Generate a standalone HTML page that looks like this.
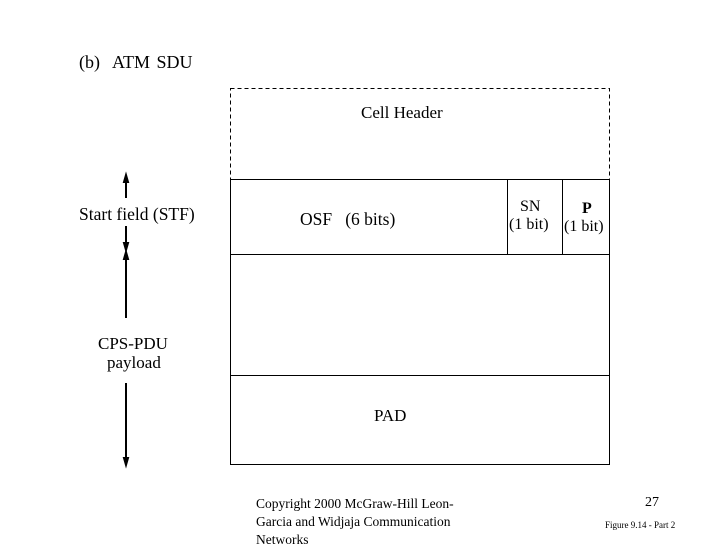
<!DOCTYPE html>
<html><head><style>
body{margin:0;width:720px;height:540px;background:#fff;overflow:hidden;position:relative;font-family:"Liberation Serif",serif;color:#000}
.t{position:absolute;white-space:nowrap;font-size:17px}
</style></head><body>
<svg width="720" height="540" style="position:absolute;left:0;top:0">
<rect x="230.5" y="88.5" width="379" height="91" fill="none" stroke="#000" stroke-dasharray="4,3"/>
<rect x="230.5" y="179.5" width="379" height="285" fill="none" stroke="#000"/>
<line x1="230" y1="254.5" x2="610" y2="254.5" stroke="#000"/>
<line x1="230" y1="375.5" x2="610" y2="375.5" stroke="#000"/>
<line x1="507.5" y1="179" x2="507.5" y2="254" stroke="#000"/>
<line x1="562.5" y1="179" x2="562.5" y2="254" stroke="#000"/>
<g stroke="#000" stroke-width="2" fill="#000">
<line x1="126" y1="180" x2="126" y2="198"/><polygon points="126,175 124,182 128,182"/>
<line x1="126" y1="226" x2="126" y2="246"/><polygon points="126,250 124,243 128,243"/>
<line x1="126" y1="257" x2="126" y2="318"/><polygon points="126,252 124,259 128,259"/>
<line x1="126" y1="383" x2="126" y2="460"/><polygon points="126,465 124,458 128,458"/>
</g>
</svg>
<div class="t" style="left:79px;top:52px;font-size:18px;word-spacing:2px">(b)&nbsp; ATM SDU</div>
<div class="t" style="left:361px;top:103px">Cell Header</div>
<div class="t" style="left:79px;top:204px;font-size:17.5px">Start field (STF)</div>
<div class="t" style="left:300px;top:209px;font-size:17.5px">OSF&nbsp;&nbsp; (6 bits)</div>
<div class="t" style="left:520px;top:198px;font-size:16px">SN</div>
<div class="t" style="left:509px;top:216px;font-size:16px">(1 bit)</div>
<div class="t" style="left:582px;top:200px;font-weight:bold;font-size:16px">P</div>
<div class="t" style="left:564px;top:218px;font-size:16px">(1 bit)</div>
<div class="t" style="left:98px;top:334px;font-size:17px">CPS-PDU</div>
<div class="t" style="left:107px;top:353px;font-size:17px">payload</div>
<div class="t" style="left:374px;top:406px;font-size:17px">PAD</div>
<div class="t" style="left:256px;top:495px;font-size:13.5px;line-height:18px">Copyright 2000 McGraw-Hill Leon-<br>Garcia and Widjaja Communication<br>Networks</div>
<div class="t" style="left:645px;top:495px;font-size:14px">27</div>
<div class="t" style="left:605px;top:520px;font-size:9px">Figure 9.14 - Part 2</div>
</body></html>
